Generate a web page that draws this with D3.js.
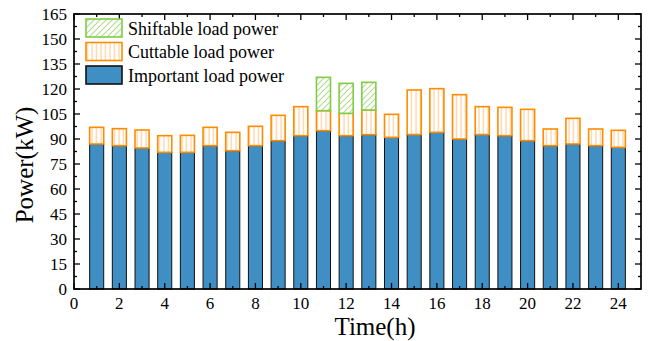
<!DOCTYPE html>
<html><head><meta charset="utf-8">
<script src="https://cdn.jsdelivr.net/npm/d3@7"></script>
<style>body{margin:0;background:#fff}svg{display:block}</style>
</head><body>
<script>
const hours = [1,2,3,4,5,6,7,8,9,10,11,12,13,14,15,16,17,18,19,20,21,22,23,24];
const importantLoad = [87,86,84.6,82,82,86,83,86,89,92,95,92,92.6,91,92.7,94,90,92.7,92,89,86,87,86,85];
const cuttableLoad = [10,10.2,10.8,10,10.2,11,11,11.6,15.2,17.4,12,13.4,14.8,13.8,26.7,26.2,26.6,16.7,17,18.8,10,15.4,10,10.2];
const shiftableLoad = [0,0,0,0,0,0,0,0,0,0,20,18,16.6,0,0,0,0,0,0,0,0,0,0,0];
const yTicks = [0,15,30,45,60,75,90,105,120,135,150,165];
const xTicks = [0,2,4,6,8,10,12,14,16,18,20,22,24];
const legendLabels = ["Shiftable load power","Cuttable load power","Important load power"];

const W=651,H=341;
const L=74,R=641,T=14,B=289;
const svg=d3.select("body").append("svg").attr("width",W).attr("height",H);
const x=d3.scaleLinear().domain([0,25]).range([L,R]);
const y=d3.scaleLinear().domain([0,165]).range([B,T]);
const bw = x(0.62)-x(0);

const defs=svg.append("defs");
const pv=defs.append("pattern").attr("id","vlines").attr("patternUnits","userSpaceOnUse").attr("width",4.5).attr("height",10);
pv.append("rect").attr("width",4.5).attr("height",10).attr("fill","#fff");
pv.append("line").attr("x1",2).attr("x2",2).attr("y1",0).attr("y2",10).attr("stroke","#ffcf9c").attr("stroke-width",1.2);
const pd=defs.append("pattern").attr("id","diag").attr("patternUnits","userSpaceOnUse").attr("width",6).attr("height",6);
pd.append("rect").attr("width",6).attr("height",6).attr("fill","#fff");
pd.append("path").attr("d","M0,6 L6,0 M-1,1 L1,-1 M5,7 L7,5").attr("stroke","#b3dd8e").attr("stroke-width",1.1);

const blue="#3f8fc4", orange="#ff8c00", green="#80cc44";

const data=hours.map((h,i)=>({h,imp:importantLoad[i],cut:cuttableLoad[i],sh:shiftableLoad[i]}));
const g=svg.append("g");
g.selectAll(".imp").data(data).join("rect")
 .attr("x",d=>x(d.h)-bw/2).attr("width",bw)
 .attr("y",d=>y(d.imp)).attr("height",d=>y(0)-y(d.imp))
 .attr("fill",blue).attr("stroke","#111").attr("stroke-width",1);
g.selectAll(".cut").data(data).join("rect")
 .attr("x",d=>x(d.h)-bw/2).attr("width",bw)
 .attr("y",d=>y(d.imp+d.cut)).attr("height",d=>y(d.imp)-y(d.imp+d.cut))
 .attr("fill","url(#vlines)").attr("stroke",orange).attr("stroke-width",1.6);
g.selectAll(".sh").data(data.filter(d=>d.sh>0)).join("rect")
 .attr("x",d=>x(d.h)-bw/2).attr("width",bw)
 .attr("y",d=>y(d.imp+d.cut+d.sh)).attr("height",d=>y(d.imp+d.cut)-y(d.imp+d.cut+d.sh))
 .attr("fill","url(#diag)").attr("stroke",green).attr("stroke-width",1.6);

const ax=svg.append("g").attr("stroke","#000");
ax.append("rect").attr("x",L).attr("y",T).attr("width",R-L).attr("height",B-T).attr("fill","none").attr("stroke-width",1.7);
const xMinor=d3.range(1,25,2), yMinor=d3.range(7.5,165,15);
xTicks.forEach(v=>{ax.append("line").attr("x1",x(v)).attr("x2",x(v)).attr("y1",B).attr("y2",B-6).attr("stroke-width",1.3);
 ax.append("line").attr("x1",x(v)).attr("x2",x(v)).attr("y1",T).attr("y2",T+6).attr("stroke-width",1.3);});
xMinor.forEach(v=>{ax.append("line").attr("x1",x(v)).attr("x2",x(v)).attr("y1",B).attr("y2",B-3).attr("stroke-width",1.3);
 ax.append("line").attr("x1",x(v)).attr("x2",x(v)).attr("y1",T).attr("y2",T+3).attr("stroke-width",1.3);});
yTicks.forEach(v=>{ax.append("line").attr("x1",L).attr("x2",L+6).attr("y1",y(v)).attr("y2",y(v)).attr("stroke-width",1.3);
 ax.append("line").attr("x1",R).attr("x2",R-6).attr("y1",y(v)).attr("y2",y(v)).attr("stroke-width",1.3);});
yMinor.forEach(v=>{ax.append("line").attr("x1",L).attr("x2",L+3).attr("y1",y(v)).attr("y2",y(v)).attr("stroke-width",1.3);
 ax.append("line").attr("x1",R).attr("x2",R-3).attr("y1",y(v)).attr("y2",y(v)).attr("stroke-width",1.3);});

const font="'Liberation Serif','Times New Roman',serif";
svg.append("g").selectAll("text").data(yTicks).join("text")
 .attr("x",L-7).attr("y",d=>y(d)).attr("dy","0.35em").attr("text-anchor","end")
 .attr("font-family",font).attr("font-size",17).text(d=>d);
svg.append("g").selectAll("text").data(xTicks).join("text")
 .attr("x",d=>x(d)).attr("y",B+20).attr("text-anchor","middle")
 .attr("font-family",font).attr("font-size",17).text(d=>d);
svg.append("text").attr("x",375).attr("y",335).attr("text-anchor","middle")
 .attr("font-family",font).attr("font-size",25).text("Time(h)");
svg.append("text").attr("transform","translate(33,165) rotate(-90)").attr("text-anchor","middle")
 .attr("font-family",font).attr("font-size",25).text("Power(kW)");

const lg=svg.append("g");
const fills=["url(#diag)","url(#vlines)",blue], strokes=[green,orange,"#111"];
legendLabels.forEach((t,i)=>{
 const yy=19+i*23.5;
 lg.append("rect").attr("x",86).attr("y",yy).attr("width",36).attr("height",18)
  .attr("fill",fills[i]).attr("stroke",strokes[i]).attr("stroke-width",1.6);
 lg.append("text").attr("x",128).attr("y",yy+15.5).attr("font-family",font).attr("font-size",18).text(t);
});
</script>
</body></html>
